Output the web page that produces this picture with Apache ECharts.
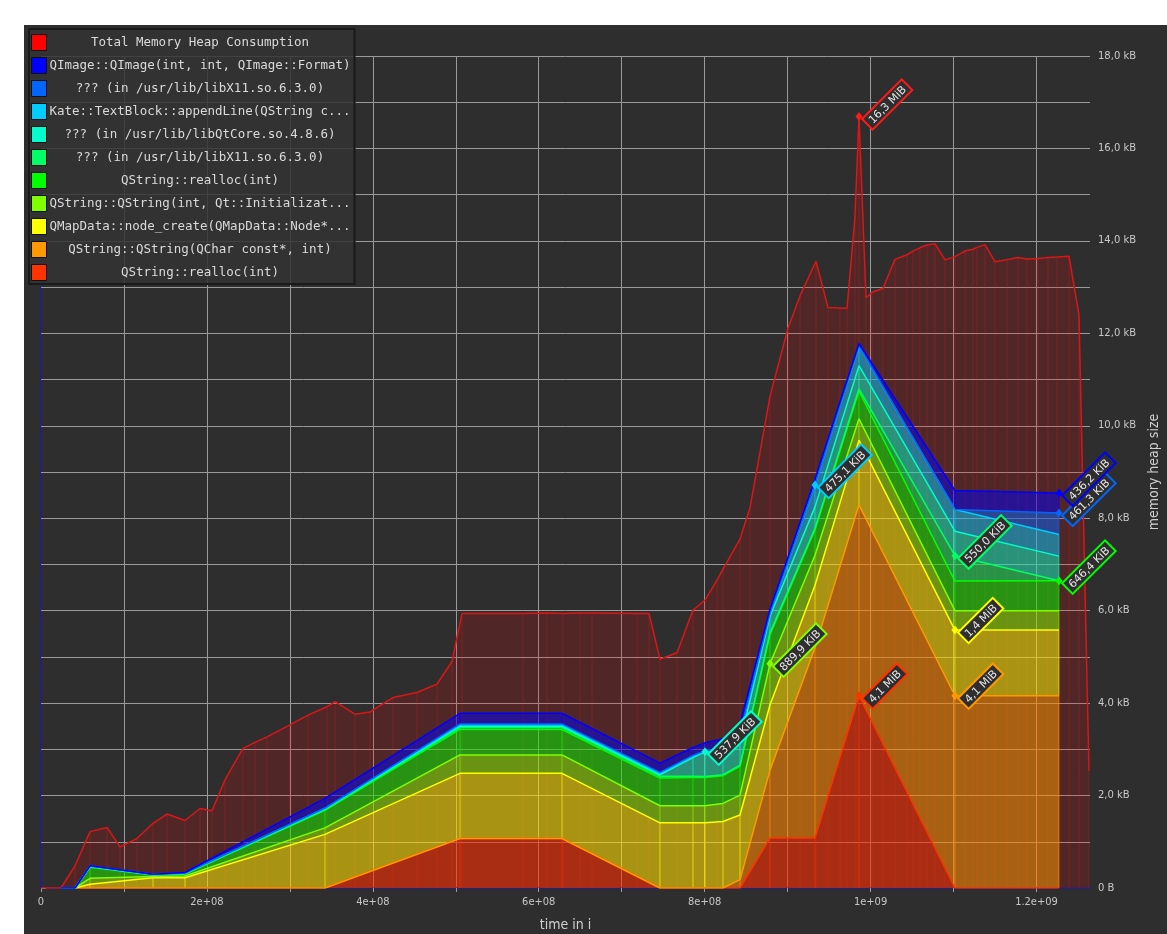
<!DOCTYPE html>
<html>
<head>
<meta charset="utf-8">
<script src="https://cdn.jsdelivr.net/npm/echarts@6/dist/echarts.min.js"></script>
<style>
html,body{margin:0;padding:0;background:#ffffff;width:1167px;height:934px;overflow:hidden}
#main{position:absolute;left:24px;top:25px;width:1143px;height:909px;background:#2e2e2e}
</style>
</head>
<body>
<div id="main"></div>
<script>
// ---------------- DATA ----------------
const totalName = 'Total Memory Heap Consumption';
const totalColor = '#ff0000';
const totalTimes = [0, 2.41e7, 4.10e7, 5.91e7, 7.96e7, 9.52e7, 1.157e8, 1.350e8, 1.519e8, 1.736e8,
  1.917e8, 2.061e8, 2.218e8, 2.435e8, 2.580e8, 2.724e8, 3.001e8, 3.218e8, 3.447e8, 3.544e8,
  3.785e8, 3.966e8, 4.243e8, 4.532e8, 4.773e8, 4.954e8, 5.075e8, 5.810e8, 6.099e8, 6.292e8,
  6.497e8, 6.642e8, 7.184e8, 7.329e8, 7.461e8, 7.666e8, 7.859e8, 8.004e8, 8.149e8, 8.221e8,
  8.426e8, 8.546e8, 8.787e8, 9.004e8, 9.149e8, 9.342e8, 9.487e8, 9.631e8, 9.716e8, 9.812e8,
  9.860e8, 9.945e8, 1.0017e9, 1.0149e9, 1.0294e9, 1.0439e9, 1.0511e9, 1.0595e9, 1.0680e9, 1.0776e9,
  1.0897e9, 1.1017e9, 1.1138e9, 1.1234e9, 1.1283e9, 1.1379e9, 1.1500e9, 1.1644e9, 1.1777e9, 1.1885e9,
  1.2018e9, 1.2138e9, 1.2247e9, 1.2392e9, 1.2512e9, 1.2633e9];
const totalValues = [0, 0, 0.48, 1.22, 1.31, 0.89, 1.07, 1.40, 1.60, 1.46,
  1.72, 1.67, 2.34, 3.02, 3.15, 3.27, 3.53, 3.74, 3.92, 4.03,
  3.76, 3.81, 4.12, 4.23, 4.41, 4.90, 5.94, 5.94, 5.95, 5.94,
  5.95, 5.95, 5.94, 5.94, 4.95, 5.09, 6.01, 6.23, 6.66, 6.90,
  7.55, 8.22, 10.63, 12.11, 12.81, 13.56, 12.56, 12.55, 12.54, 14.52,
  16.69, 12.77, 12.89, 12.97, 13.60, 13.70, 13.78, 13.85, 13.91, 13.94,
  13.59, 13.66, 13.78, 13.82, 13.86, 13.92, 13.55, 13.59, 13.64, 13.61,
  13.62, 13.64, 13.65, 13.67, 12.40, 2.53];
const totalPeakIndex = 50;
const totalPeakText = '16,3 MiB';

// detailed snapshots (stacked layers)
const snapshotTimes = [2.41e7, 4.10e7, 5.91e7, 1.350e8, 1.736e8, 3.423e8, 5.051e8, 6.280e8, 7.461e8,
  7.859e8, 8.004e8, 8.221e8, 8.426e8, 8.787e8, 9.330e8, 9.860e8, 1.1017e9, 1.2271e9];

// layers, bottom to top
const layerNames = [
  'QString::realloc(int)',
  'QString::QString(QChar const*, int)',
  'QMapData::node_create(QMapData::Node*...',
  'QString::QString(int, Qt::Initializat...',
  'QString::realloc(int)',
  '??? (in /usr/lib/libX11.so.6.3.0)',
  '??? (in /usr/lib/libQtCore.so.4.8.6)',
  'Kate::TextBlock::appendLine(QString c...',
  '??? (in /usr/lib/libX11.so.6.3.0)',
  'QImage::QImage(int, int, QImage::Format)'
];
const layerColors = ['#ff3300', '#ff9900', '#ffff00', '#80ff00', '#00ff00', '#00ff66', '#00ffcc', '#00ccff', '#0066ff', '#0000ff'];

const qstringReallocA = [0, 0, 0, 0, 0, 0, 1.07, 1.07, 0, 0, 0, 0, 0, 1.08, 1.08, 4.16, 0, 0];
const qstringFromQChar = [0, 0, 0, 0, 0, 0, 0, 0, 0, 0, 0, 0, 0.18, 1.47, 4.12, 4.13, 4.16, 4.16];
const qmapNodeCreate = [0, 0, 0.08, 0.22, 0.22, 1.16, 1.41, 1.41, 1.41, 1.41, 1.41, 1.44, 1.40, 1.41, 1.35, 1.40, 1.42, 1.42];
const qstringInit = [0, 0, 0.13, 0.03, 0.04, 0.14, 0.40, 0.40, 0.37, 0.37, 0.37, 0.39, 0.43, 0.89, 0.65, 0.46, 0.42, 0.42];
const qstringReallocB = [0, 0, 0.24, 0.03, 0.04, 0.38, 0.55, 0.55, 0.60, 0.61, 0.61, 0.60, 0.62, 0.63, 0.55, 0.60, 0.64, 0.646];
const libX11B = [0, 0, 0.01, 0.005, 0.01, 0.02, 0.04, 0.04, 0.04, 0.03, 0.02, 0.02, 0.03, 0.04, 0.03, 0.05, 0.55, 0];
const libQtCore = [0, 0, 0.005, 0.005, 0.005, 0.01, 0.03, 0.03, 0.03, 0.40, 0.538, 0.48, 0.49, 0.36, 0.465, 0.50, 0.53, 0.534];
const kateAppendLine = [0, 0, 0.005, 0.002, 0.005, 0.01, 0.03, 0.03, 0.03, 0.03, 0.012, 0.05, 0.15, 0.05, 0.475, 0.42, 0.47, 0.47];
const libX11A = [0, 0, 0.005, 0.003, 0.005, 0.01, 0.02, 0.02, 0.02, 0.02, 0.01, 0.02, 0.05, 0.02, 0.01, 0.01, 0, 0.461];
const qimage = [0, 0, 0.005, 0.005, 0.01, 0.21, 0.23, 0.23, 0.20, 0.17, 0.17, 0.23, 0.21, 0.08, 0.12, 0.05, 0.41, 0.436];

const layerValues = [qstringReallocA, qstringFromQChar, qmapNodeCreate, qstringInit, qstringReallocB,
  libX11B, libQtCore, kateAppendLine, libX11A, qimage];
const peakLabelIndex = [15, 16, 16, 13, 17, 16, 10, 14, 17, 17];
const peakLabelText = ['4,1 MiB', '4,1 MiB', '1,4 MiB', '889,9 KiB', '646,4 KiB', '550,0 KiB', '537,9 KiB', '475,1 KiB', '461,3 KiB', '436,2 KiB'];

const xTickValues = [0, 2e8, 4e8, 6e8, 8e8, 1e9, 1.2e9];
const xTickLabels = ['0', '2e+08', '4e+08', '6e+08', '8e+08', '1e+09', '1.2e+09'];
const yTickValues = [0, 2, 4, 6, 8, 10, 12, 14, 16, 18];
const yTickLabels = ['0 B', '2,0 kB', '4,0 kB', '6,0 kB', '8,0 kB', '10,0 kB', '12,0 kB', '14,0 kB', '16,0 kB', '18,0 kB'];

// ---------------- CHART ----------------
function rgba(hex, a) {
  const n = parseInt(hex.slice(1), 16);
  return 'rgba(' + ((n >> 16) & 255) + ',' + ((n >> 8) & 255) + ',' + (n & 255) + ',' + a + ')';
}
// duplicate names need to stay distinct for the legend
const seen = {};
const uniqueNames = layerNames.map(n => { seen[n] = (seen[n] || 0) + 1; return n + '\u200b'.repeat(seen[n] - 1); });

function peakLabel(text, color) {
  return {
    show: true, position: [8, 7], rotate: 45, formatter: text,
    color: '#e6e6e6', fontSize: 11, fontFamily: 'DejaVu Sans',
    backgroundColor: '#2e2e2e', borderColor: color, borderWidth: 2,
    padding: [2, 3, 0, 3], align: 'left', verticalAlign: 'top'
  };
}

// vertical snapshot strokes: [time, low, high] rows handed to a custom series
function vStrokeSeries(name, rows, color, z) {
  return {
    name: name, type: 'custom', z: z, silent: true, clip: true,
    encode: { x: 0, y: [1, 2] },
    data: rows,
    renderItem: function (params, api) {
      const a = api.coord([api.value(0), api.value(1)]);
      const b = api.coord([api.value(0), api.value(2)]);
      return { type: 'line', shape: { x1: a[0], y1: a[1], x2: b[0], y2: b[1] }, style: { stroke: color, lineWidth: 1 } };
    }
  };
}

const series = [];
// total (value first, time second so the library stacks/plots the value dimension)
series.push({
  name: totalName, type: 'line', z: 1, color: totalColor, symbol: 'none',
  encode: { x: 1, y: 0 },
  data: totalTimes.map((t, i) => i === totalPeakIndex
    ? { value: [totalValues[i], t], symbol: 'diamond', symbolSize: [7, 9], itemStyle: { color: '#ff1a1a' }, label: peakLabel(totalPeakText, '#ff1a1a') }
    : [totalValues[i], t]),
  lineStyle: { color: '#dc1616', width: 1.5 },
  areaStyle: { color: 'rgba(255,0,0,0.17)', opacity: 1 },
  silent: true, emphasis: { disabled: true }
});
series.push(vStrokeSeries('hatch-total', totalTimes.map((t, i) => [t, 0, totalValues[i]]), 'rgba(255,40,40,0.22)', 1));

// vertical strokes for each layer between its lower and upper stacked level
const running = snapshotTimes.map(() => 0);
layerValues.forEach((vals, k) => {
  const rows = snapshotTimes.map((t, i) => { const lo = running[i]; running[i] += vals[i]; return [t, lo, running[i]]; });
  series.push(vStrokeSeries('hatch-' + k, rows, rgba(layerColors[k], 0.6), 2));
});

layerValues.forEach((vals, k) => {
  const c = layerColors[k];
  series.push({
    name: uniqueNames[k], type: 'line', stack: 'heap', z: 3, color: c, symbol: 'none',
    encode: { x: 1, y: 0 },
    data: snapshotTimes.map((t, i) => i === peakLabelIndex[k]
      ? { value: [vals[i], t], symbol: 'diamond', symbolSize: [7, 9], itemStyle: { color: c }, label: peakLabel(peakLabelText[k], c) }
      : [vals[i], t]),
    lineStyle: { color: c, width: 1.5 },
    areaStyle: { color: rgba(c, 0.5), opacity: 1 },
    silent: true, emphasis: { disabled: true }
  });
});

const condensed = "'DejaVu Sans Condensed','Liberation Sans Narrow','DejaVu Sans',sans-serif";
const gridGray = '#9a9a9a';
const xSplitColors = ['#22227a'];
for (let i = 0; i < 12; i++) xSplitColors.push(gridGray);
xSplitColors.push('rgba(0,0,0,0)');

const option = {
  animation: false,
  backgroundColor: '#2e2e2e',
  textStyle: { fontFamily: 'DejaVu Sans' },
  grid: { left: 17, right: 77, top: 31, bottom: 46, containLabel: false, outerBoundsMode: 'none' },
  legend: {
    orient: 'vertical', left: 5, top: 4,
    data: [totalName].concat(uniqueNames.slice().reverse()),
    icon: 'rect', itemWidth: 15, itemHeight: 16, itemGap: 6,
    padding: [5, 4, 3, 2],
    backgroundColor: 'rgba(50,50,50,0.85)', borderColor: '#1a1a1a', borderWidth: 2,
    itemStyle: { borderColor: '#111111', borderWidth: 1 },
    selectedMode: false,
    formatter: n => '{c|' + n + '}',
    textStyle: {
      color: '#dadada', fontFamily: 'DejaVu Sans Mono', fontSize: 12.5,
      rich: { c: { width: 297, align: 'center', color: '#dadada', fontFamily: 'DejaVu Sans Mono', fontSize: 12.5 } }
    }
  },
  xAxis: {
    type: 'value', min: 0, max: 1.2645e9, interval: 1e8,
    name: 'time in i', nameLocation: 'middle', nameGap: 30,
    nameTextStyle: { color: '#d0d0d0', fontSize: 14, fontFamily: condensed },
    axisLine: { show: true, lineStyle: { color: '#22227a', width: 2 } },
    axisTick: { show: true, length: 4, lineStyle: { color: '#9a9a9a' } },
    axisLabel: {
      color: '#c8c8c8', fontSize: 11, fontFamily: condensed, margin: 9, showMaxLabel: false,
      formatter: v => { const i = xTickValues.findIndex(x => Math.abs(x - v) < 1); return i >= 0 ? xTickLabels[i] : ''; }
    },
    splitLine: { show: true, lineStyle: { color: xSplitColors, width: 1 } }
  },
  yAxis: [{
    type: 'value', position: 'right', min: 0, max: 18, interval: 1,
    name: 'memory heap size', nameLocation: 'middle', nameGap: 55, nameRotate: 90,
    nameTextStyle: { color: '#d0d0d0', fontSize: 14, fontFamily: condensed },
    axisLine: { show: false },
    axisTick: { show: true, length: 5, lineStyle: { color: '#9a9a9a' } },
    axisLabel: {
      color: '#c8c8c8', fontSize: 10, fontFamily: 'DejaVu Sans', margin: 8,
      formatter: v => { const i = yTickValues.indexOf(Math.round(v * 1000) / 1000); return i >= 0 ? yTickLabels[i] : ''; }
    },
    splitLine: { show: true, lineStyle: { color: gridGray, width: 1 } }
  }, {
    type: 'value', position: 'left', min: 0, max: 18, interval: 1,
    axisLine: { show: true, lineStyle: { color: '#22227a', width: 2 } },
    axisTick: { show: false }, axisLabel: { show: false }, splitLine: { show: false }
  }],
  series: series
};

const chart = echarts.init(document.getElementById('main'));
chart.setOption(option);
</script>
</body>
</html>
